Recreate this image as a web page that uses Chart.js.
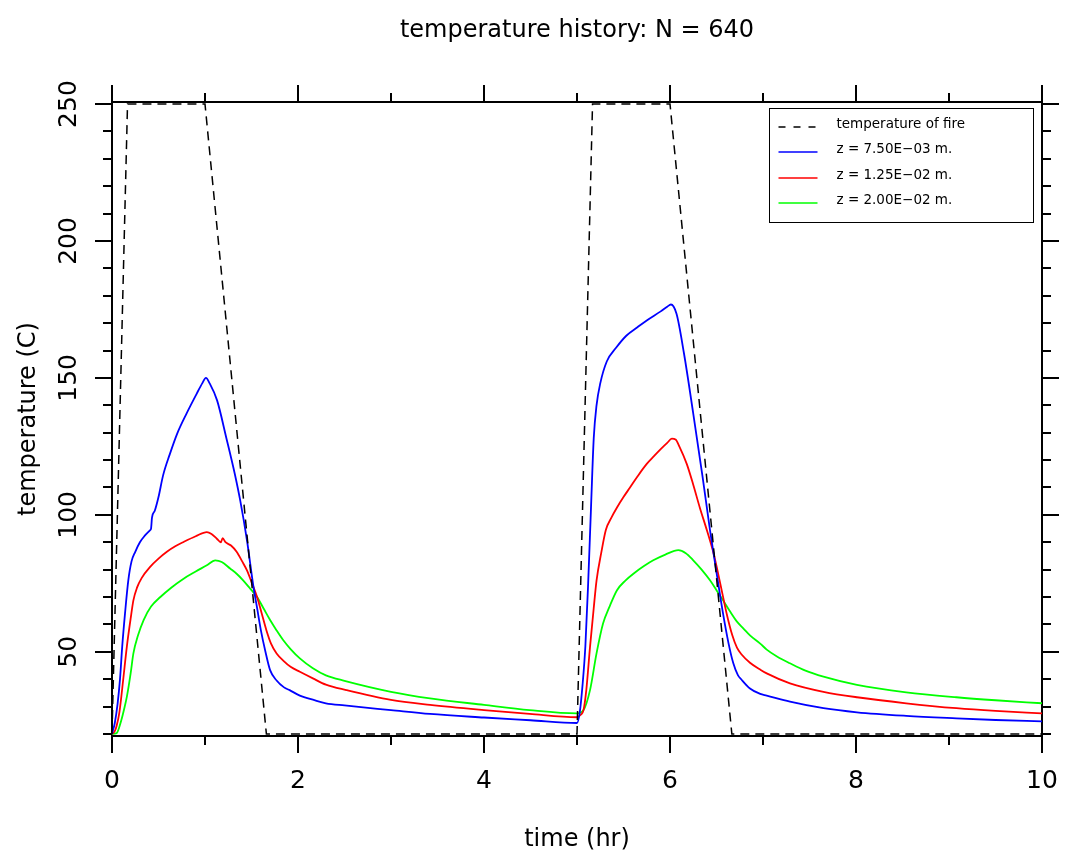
<!DOCTYPE html>
<html><head><meta charset="utf-8">
<script src="https://cdn.jsdelivr.net/npm/chart.js@4.4.1/dist/chart.umd.min.js"></script>
<style>html,body{margin:0;padding:0;background:#fff;}canvas{display:block;}</style>
</head><body>
<canvas id="c" width="1065" height="857"></canvas>
<script>
const chartTitle = 'temperature history: N = 640';
const xTitle = 'time (hr)';
const yTitle = 'temperature (C)';
const seriesLabels = ['temperature of fire', 'z = 7.50E\u221203 m.', 'z = 1.25E\u221202 m.', 'z = 2.00E\u221202 m.'];
const seriesColors = ['#000000', '#0000ff', '#ff0000', '#00ff00'];

const xMajorTicks = [0, 2, 4, 6, 8, 10];
const xTickLabels = ['0', '2', '4', '6', '8', '10'];
const xMinorTicks = [1, 3, 5, 7, 9];
const yMajorTicks = [50, 100, 150, 200, 250];
const yTickLabels = ['50', '100', '150', '200', '250'];
const yMinorTicks = [20, 30, 40, 60, 70, 80, 90, 110, 120, 130, 140, 160, 170, 180, 190, 210, 220, 230, 240];

const fireTime = [0, 0.167, 1.0, 1.66, 5.0, 5.167, 6.0, 6.665, 10];
const fireTemp = [20, 250, 250, 20, 20, 250, 250, 20, 20];

const z1Time = [0, 0.03, 0.06, 0.086, 0.11, 0.14, 0.175, 0.21, 0.25, 0.30, 0.35, 0.41, 0.42, 0.43, 0.46, 0.50, 0.55, 0.62, 0.70, 0.80, 0.91, 0.97, 1.01, 1.05, 1.13, 1.23, 1.32, 1.38, 1.45, 1.52, 1.56, 1.60, 1.65, 1.70, 1.77, 1.85, 1.91, 2.02, 2.09, 2.16, 2.30, 2.50, 3.0, 3.42, 4.0, 4.5, 5.0,
  5.03, 5.06, 5.09, 5.12, 5.15, 5.18, 5.21, 5.25, 5.32, 5.42, 5.53, 5.65, 5.75, 5.90, 5.97, 6.01, 6.07, 6.15, 6.25, 6.35, 6.43, 6.50, 6.57, 6.63, 6.68, 6.73, 6.77, 6.86, 6.97, 7.04, 7.29, 7.65, 8.01, 8.54, 9.08, 9.5, 10];
const z1Temp = [20, 24, 31, 40, 52, 64, 76, 83, 86.5, 90, 92.3, 94.4, 95, 99, 101.5, 106.5, 114.5, 122, 129.6, 136.9, 144.2, 148, 150, 148, 141.8, 128, 115, 105, 91, 74, 66, 58, 50, 43.3, 39.5, 37, 36, 34, 33.2, 32.5, 31.2, 30.4, 28.7, 27.3, 26.0, 25.0, 24.0,
  28, 38, 52, 75, 102, 128, 140, 148, 156, 161, 165.4, 168.5, 171, 174.3, 176, 176.8, 173.4, 159, 137, 114, 94.4, 79, 64, 53, 45.9, 41.5, 39.8, 36.6, 34.6, 34.0, 31.8, 29.4, 27.9, 26.6, 25.7, 25.1, 24.6];

const z2Time = [0, 0.03, 0.05, 0.08, 0.12, 0.16, 0.20, 0.23, 0.27, 0.32, 0.41, 0.50, 0.59, 0.68, 0.77, 0.90, 1.02, 1.07, 1.13, 1.17, 1.19, 1.22, 1.28, 1.34, 1.40, 1.45, 1.50, 1.56, 1.61, 1.66, 1.71, 1.77, 1.85, 1.92, 2.02, 2.16, 2.30, 2.52, 3.0, 3.42, 4.0, 4.49, 5.0,
  5.04, 5.07, 5.10, 5.14, 5.18, 5.21, 5.26, 5.31, 5.37, 5.43, 5.50, 5.57, 5.65, 5.75, 5.83, 5.90, 5.97, 6.02, 6.06, 6.10, 6.18, 6.25, 6.32, 6.40, 6.47, 6.54, 6.61, 6.67, 6.72, 6.77, 6.86, 6.97, 7.04, 7.29, 7.65, 8.01, 8.54, 9.08, 9.5, 10];
const z2Temp = [20, 21, 23, 28, 39.7, 52, 62, 68.8, 73.5, 77, 81, 84, 86.5, 88.5, 90.1, 92.2, 93.7, 93, 91.2, 90, 91.5, 90, 88.8, 86.5, 83, 79.8, 75.5, 70, 64, 57.9, 53, 49.4, 46.5, 44.5, 42.7, 40.3, 38, 36, 32.4, 30.6, 28.7, 27.3, 26.1,
  27, 28.7, 36, 51.8, 66, 76, 86, 94.5, 99, 102.7, 106.5, 110, 114, 118.6, 121.5, 124, 126.3, 127.8, 127.5, 125, 118.6, 111, 102.7, 94, 85.7, 75, 63.8, 56, 51.5, 49, 46, 43.5, 42.1, 38.5, 35.4, 33.4, 31.2, 29.4, 28.4, 27.5];

const z3Time = [0, 0.05, 0.10, 0.13, 0.16, 0.20, 0.23, 0.28, 0.34, 0.42, 0.52, 0.64, 0.77, 0.90, 1.02, 1.11, 1.18, 1.27, 1.34, 1.41, 1.48, 1.56, 1.63, 1.70, 1.77, 1.84, 1.92, 2.02, 2.16, 2.30, 2.50, 3.0, 3.42, 4.0, 4.49, 5.0,
  5.07, 5.14, 5.21, 5.28, 5.35, 5.43, 5.52, 5.61, 5.72, 5.82, 5.95, 6.09, 6.17, 6.25, 6.34, 6.43, 6.50, 6.57, 6.65, 6.72, 6.79, 6.86, 6.97, 7.04, 7.15, 7.29, 7.45, 7.65, 8.01, 8.54, 9.08, 9.5, 10];
const z3Temp = [20, 20.3, 25, 29, 33.6, 42, 49.4, 56, 61.6, 66.5, 70, 73.5, 76.7, 79.3, 81.6, 83.4, 82.8, 80.4, 78.5, 76.1, 73.3, 70, 65.8, 61.6, 57.8, 54.3, 51, 47.6, 44, 41.4, 39.4, 35.4, 33, 30.6, 28.7, 27.5,
  28.7, 36, 49.4, 60.3, 66.5, 72.5, 76, 78.6, 81.3, 83.4, 85.5, 87.1, 86, 83.4, 80, 76.1, 72.5, 68.8, 64.5, 61, 58.5, 56, 53, 50.8, 48.3, 45.8, 43.2, 40.9, 37.9, 35.2, 33.4, 32.3, 31.2];

const FONT = "'DejaVu Sans', sans-serif";
function pts(t, v) { return t.map((x, i) => ({ x: x, y: v[i] })); }

const tickPlugin = {
  id: 'frameTicks',
  afterDraw(chart) {
    const { ctx, chartArea: a, scales: { x, y } } = chart;
    const MAJ = 17, MIN = 9;
    ctx.save();
    ctx.strokeStyle = '#000'; ctx.lineWidth = 2; ctx.lineCap = 'butt';
    const vt = (px, y0, len) => { ctx.beginPath(); ctx.moveTo(px, y0); ctx.lineTo(px, y0 + len); ctx.stroke(); };
    const ht = (py, x0, len) => { ctx.beginPath(); ctx.moveTo(x0, py); ctx.lineTo(x0 + len, py); ctx.stroke(); };
    xMajorTicks.forEach(v => { const p = Math.round(x.getPixelForValue(v)); vt(p, a.bottom, MAJ); vt(p, a.top, -MAJ); });
    xMinorTicks.forEach(v => { const p = Math.round(x.getPixelForValue(v)); vt(p, a.bottom, MIN); vt(p, a.top, -MIN); });
    yMajorTicks.forEach(v => { const p = Math.round(y.getPixelForValue(v)); ht(p, a.left, -MAJ); ht(p, a.right, MAJ); });
    yMinorTicks.forEach(v => { const p = Math.round(y.getPixelForValue(v)); ht(p, a.left, -MIN); ht(p, a.right, MIN); });
    ctx.fillStyle = '#000'; ctx.font = '25px ' + FONT; ctx.textAlign = 'center'; ctx.textBaseline = 'alphabetic';
    yMajorTicks.forEach((v, i) => {
      const p = y.getPixelForValue(v);
      ctx.save(); ctx.translate(a.left - 36, p); ctx.rotate(-Math.PI / 2); ctx.fillText(yTickLabels[i], 0, 0); ctx.restore();
    });
    ctx.restore();
  }
};

const legendPlugin = {
  id: 'boxLegend',
  afterDraw(chart) {
    const { ctx, chartArea: a } = chart;
    const bw = 264, bh = 114;
    const bx = Math.round(a.right - 9 - bw) + 0.5, by = Math.round(a.top + 6) + 0.5;
    ctx.save();
    ctx.fillStyle = '#fff'; ctx.fillRect(bx, by, bw, bh);
    ctx.strokeStyle = '#000'; ctx.lineWidth = 1; ctx.strokeRect(bx, by, bw, bh);
    chart.data.datasets.forEach((ds, i) => {
      const ly = Math.round(by + 18.5 + 25.3 * i);
      ctx.strokeStyle = ds.borderColor; ctx.lineWidth = 1.5; ctx.setLineDash(i === 0 ? [7, 8] : []);
      ctx.beginPath(); ctx.moveTo(bx + 9, ly); ctx.lineTo(bx + 48, ly); ctx.stroke();
      ctx.setLineDash([]);
      ctx.fillStyle = '#000'; ctx.font = '13.5px ' + FONT; ctx.textAlign = 'left'; ctx.textBaseline = 'alphabetic';
      ctx.fillText(ds.label, bx + 67, ly + 1);
    });
    ctx.restore();
  }
};

const axisBorder = { display: true, color: '#000', width: 2 };
const noGrid = { display: false, drawTicks: false };

new Chart(document.getElementById('c'), {
  type: 'line',
  data: {
    datasets: [
      { label: seriesLabels[0], data: pts(fireTime, fireTemp), borderColor: seriesColors[0], borderWidth: 1.5, borderDash: [9, 6], pointRadius: 0, tension: 0 },
      { label: seriesLabels[1], data: pts(z1Time, z1Temp), borderColor: seriesColors[1], borderWidth: 1.8, pointRadius: 0, cubicInterpolationMode: 'monotone' },
      { label: seriesLabels[2], data: pts(z2Time, z2Temp), borderColor: seriesColors[2], borderWidth: 1.8, pointRadius: 0, cubicInterpolationMode: 'monotone' },
      { label: seriesLabels[3], data: pts(z3Time, z3Temp), borderColor: seriesColors[3], borderWidth: 1.8, pointRadius: 0, cubicInterpolationMode: 'monotone' }
    ]
  },
  options: {
    responsive: false, animation: false, devicePixelRatio: 1,
    layout: { padding: 0 },
    plugins: {
      legend: { display: false }, tooltip: { enabled: false },
      title: { display: true, fullSize: false, text: chartTitle, color: '#000', font: { family: FONT, size: 24, weight: 'normal', lineHeight: 1.25 }, padding: { top: 16, bottom: 0 } }
    },
    scales: {
      x: {
        type: 'linear', position: 'bottom', min: 0, max: 10,
        afterBuildTicks: s => { s.ticks = xMajorTicks.map(v => ({ value: v })); },
        ticks: { color: '#000', font: { family: FONT, size: 25 }, padding: 0, maxRotation: 0, autoSkip: false, callback: (v, i) => xTickLabels[i] },
        grid: { display: true, drawOnChartArea: false, drawTicks: true, tickLength: 30, color: 'rgba(0,0,0,0)', tickColor: 'rgba(0,0,0,0)' },
        border: axisBorder,
        title: { display: true, text: xTitle, color: '#000', font: { family: FONT, size: 24, lineHeight: 1.25 }, padding: { top: 0, bottom: 2 } },
        afterFit: s => { s.height = 121; }
      },
      x2: {
        type: 'linear', position: 'top', min: 0, max: 10,
        ticks: { display: false }, grid: noGrid, border: axisBorder,
        afterFit: s => { s.height = 56; }
      },
      y: {
        type: 'linear', position: 'left', min: 19.25, max: 250.75,
        ticks: { display: false }, grid: noGrid, border: axisBorder,
        title: { display: true, text: yTitle, color: '#000', font: { family: FONT, size: 24, lineHeight: 1.25 }, padding: { top: 14, bottom: 0 } },
        afterFit: s => { s.width = 112; }
      },
      y2: {
        type: 'linear', position: 'right', min: 19.25, max: 250.75,
        ticks: { display: false }, grid: noGrid, border: axisBorder,
        afterFit: s => { s.width = 23; }
      }
    }
  },
  plugins: [tickPlugin, legendPlugin]
});
</script>
</body></html>
